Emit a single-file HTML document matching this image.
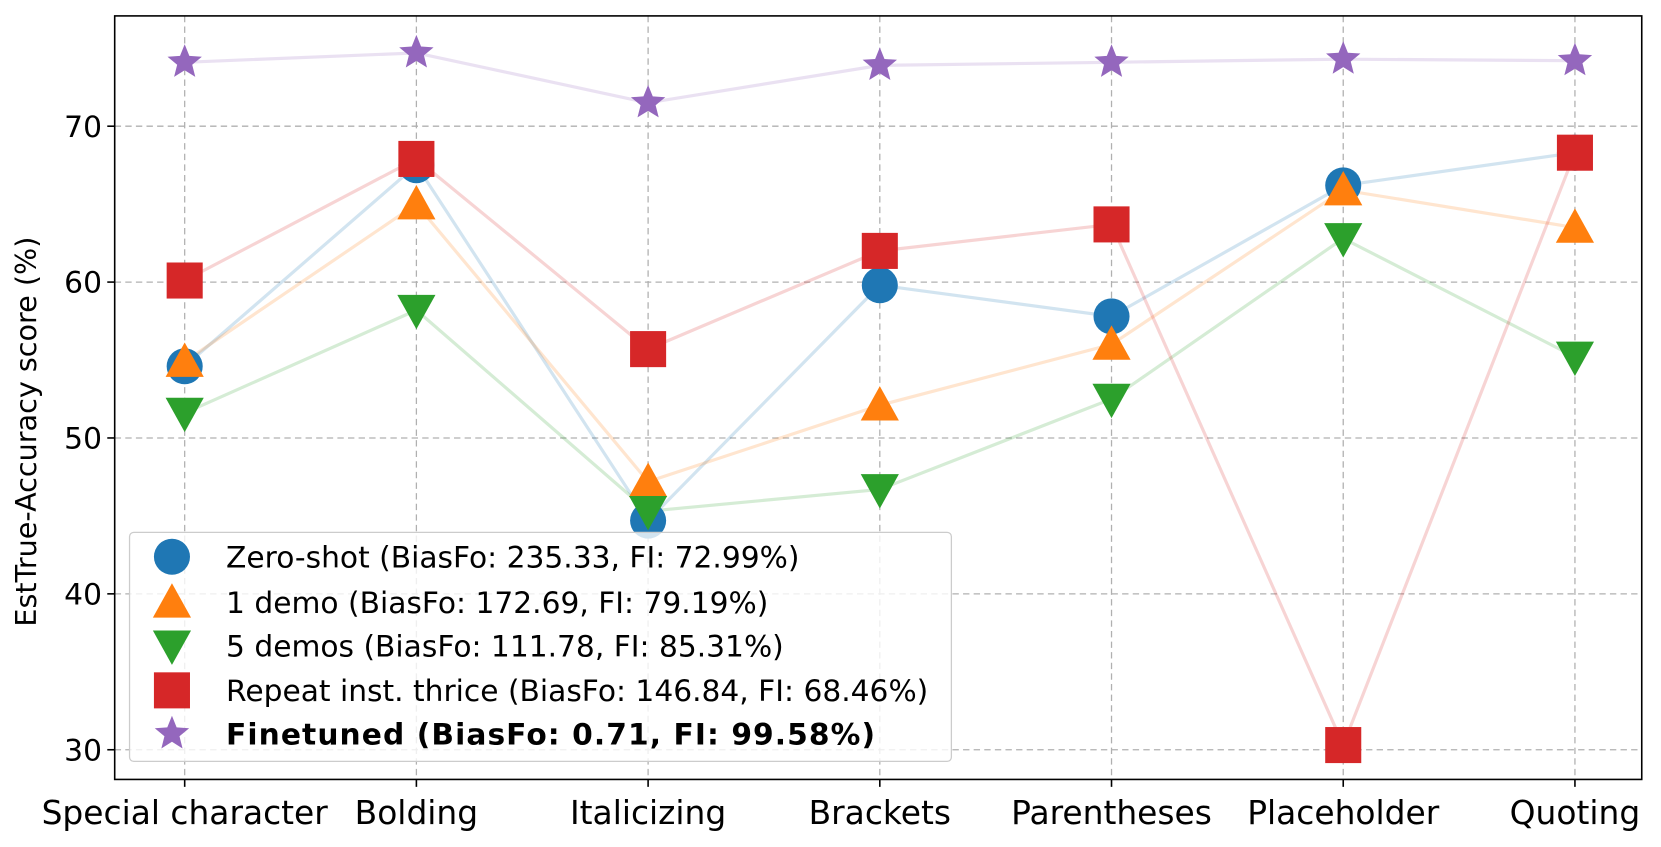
<!DOCTYPE html>
<html><head><meta charset="utf-8"><style>
body{margin:0;background:#fff}
svg text{font-family:"DejaVu Sans","Liberation Sans",sans-serif}
</style></head><body>
<svg id="c" width="1661" height="842" viewBox="0 0 1566 794" xmlns="http://www.w3.org/2000/svg"></svg>
<script>
const categories=["Special character","Bolding","Italicizing","Brackets","Parentheses","Placeholder","Quoting"];
const zeroShot=[54.6,67.5,44.7,59.8,57.8,66.2,68.3];
const oneDemo=[54.9,65.0,47.2,52.1,56.0,65.9,63.5];
const fiveDemos=[51.6,58.2,45.3,46.7,52.5,62.8,55.2];
const repeatThrice=[60.1,67.9,55.7,62.0,63.7,30.3,68.3];
const finetuned=[74.1,74.7,71.5,73.9,74.1,74.3,74.2];
const yTicks=[30,40,50,60,70];
const legendLabels=["Zero-shot (BiasFo: 235.33, FI: 72.99%)","1 demo (BiasFo: 172.69, FI: 79.19%)","5 demos (BiasFo: 111.78, FI: 85.31%)","Repeat inst. thrice (BiasFo: 146.84, FI: 68.46%)","Finetuned (BiasFo: 0.71, FI: 99.58%)"];

const NS="http://www.w3.org/2000/svg";
const svg=document.getElementById('c');
const L=108,R=1548,T=15,B=735;
const x=i=>174+i*218.5;
const y=v=>119+(70-v)*14.7;
function el(t,a,p){const e=document.createElementNS(NS,t);for(const k in a)e.setAttribute(k,a[k]);(p||svg).appendChild(e);return e;}
yTicks.forEach(v=>{const g=el('line',{x1:L,x2:R,y1:y(v),y2:y(v),stroke:'#b0b0b0','stroke-dasharray':'6,4','stroke-width':1.2});


const t=el('line',{x1:L-7,x2:L,y1:y(v),y2:y(v),stroke:'#000','stroke-width':1.5});


const tx=el('text',{x:L-12,y:y(v)+10,'text-anchor':'end','font-size':28});tx.textContent=v;

});
categories.forEach((c,i)=>{const g=el('line',{x1:x(i),x2:x(i),y1:T,y2:B,stroke:'#b0b0b0','stroke-dasharray':'6,4','stroke-width':1.2});


const t=el('line',{x1:x(i),x2:x(i),y1:B,y2:B+7,stroke:'#000','stroke-width':1.5});


const tx=el('text',{x:x(i),y:B+42,'text-anchor':'middle','font-size':31});tx.textContent=c;

});
const yl=el('text',{x:0,y:0,transform:`translate(34,${(T+B)/2+32}) rotate(-90)`,'text-anchor':'middle','font-size':27});yl.textContent="EstTrue-Accuracy score (%)";



function marker(type,cx,cy,color,s){
 let e;
 if(type==='o')e=el('circle',{cx,cy,r:17*s,fill:color});
 else if(type==='^'){const r=18*s;e=el('polygon',{points:`${cx},${cy-r} ${cx+r},${cy+r*0.8} ${cx-r},${cy+r*0.8}`,fill:color});}
 else if(type==='v'){const r=18*s;e=el('polygon',{points:`${cx},${cy+r} ${cx+r},${cy-r*0.8} ${cx-r},${cy-r*0.8}`,fill:color});}
 else if(type==='s'){const h=17*s;e=el('rect',{x:cx-h,y:cy-h,width:2*h,height:2*h,fill:color});}
 else {const pts=[];for(let k=0;k<10;k++){const r=(k%2?7.5:17)*s;const a=-Math.PI/2+k*Math.PI/5;pts.push((cx+r*Math.cos(a)).toFixed(1)+','+(cy+r*Math.sin(a)).toFixed(1));}e=el('polygon',{points:pts.join(' '),fill:color});}
 return e;
}
const series=[[zeroShot,'o','#1f77b4'],[oneDemo,'^','#ff7f0e'],[fiveDemos,'v','#2ca02c'],[repeatThrice,'s','#d62728'],[finetuned,'*','#9467bd']];
series.forEach(([d,m,c],si)=>{
 const p=el('polyline',{points:d.map((v,i)=>x(i)+','+y(v)).join(' '),fill:'none',stroke:c,'stroke-opacity':0.2,'stroke-width':3});
 
 
});
series.forEach(([d,m,c],si)=>{d.forEach((v,i)=>{const e=marker(m,x(i),y(v),c,1);
 
 });});
const fr=el('rect',{x:L,y:T,width:R-L,height:B-T,fill:'none',stroke:'#000','stroke-width':1.5});


const lg=el('rect',{x:122,y:502,width:775,height:216,rx:4,fill:'#fff','fill-opacity':0.8,stroke:'#ccc','stroke-width':1.2});


const ly=[525,568,609,651,692];
series.forEach(([d,m,c],si)=>{
 const mk=marker(m,162,ly[si],c,1);
 
 
 const a={x:213,y:ly[si]+10,'font-size':28,'font-weight':si===4?'bold':'normal'};
 if(si===4){a.textLength=612;a.lengthAdjust='spacing';}
 const t=el('text',a);t.textContent=legendLabels[si];
 
 
});
</script>
</body></html>
